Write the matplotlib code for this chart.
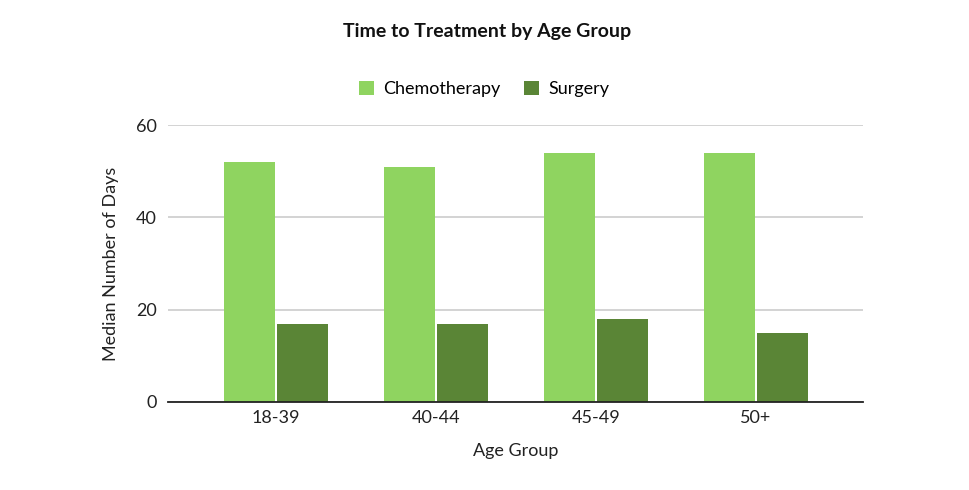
import matplotlib
matplotlib.use("Agg")
import matplotlib.pyplot as plt
import numpy as np
from matplotlib.patches import Patch

categories = ["18-39", "40-44", "45-49", "50+"]
chemotherapy = [52, 51, 54, 54]
surgery = [17, 17, 18, 15]
yticks = [0, 20, 40, 60]

plt.rcParams['font.family'] = ['Lato', 'DejaVu Sans']

fig = plt.figure(figsize=(9.7, 4.9), dpi=100)
ax = fig.add_axes([168/970, 1-402/490, (863-168)/970, (402-125)/490])

x = np.arange(len(categories))
w = 0.315
c1 = "#8fd460"
c2 = "#5a8536"
ax.bar(x - 0.166, chemotherapy, width=w, color=c1, zorder=3)
ax.bar(x + 0.166, surgery, width=w, color=c2, zorder=3)

ax.set_xlim(-0.675, 3.669)
ax.set_ylim(0, 60)
ax.set_yticks(yticks)
ax.set_yticklabels([str(v) for v in yticks], fontsize=13, color="#222222")
ax.set_xticks(x)
ax.set_xticklabels(categories, fontsize=13, color="#222222")
ax.tick_params(axis='both', length=0)
ax.tick_params(axis='y', pad=8)
ax.tick_params(axis='x', pad=6)
ax.grid(axis='y', color="#cccccc", linewidth=1.2, zorder=0)
for s in ["top", "right", "left"]:
    ax.spines[s].set_visible(False)
ax.spines["bottom"].set_color("#222222")
ax.spines["bottom"].set_linewidth(1.3)
ax.spines["bottom"].set_zorder(4)

ax.set_xlabel("Age Group", fontsize=13, color="#222222", labelpad=12)
ax.set_ylabel("Median Number of Days", fontsize=13, color="#222222", labelpad=12)

fig.text(487/970, 1-31/490, "Time to Treatment by Age Group", ha="center", va="center",
         fontsize=14, fontweight="bold", color="#111111")

handles = [Patch(facecolor=c1, label="Chemotherapy"), Patch(facecolor=c2, label="Surgery")]
fig.legend(handles=handles, loc="center", bbox_to_anchor=(484/970, 1-89/490), ncol=2,
           frameon=False, fontsize=13, handlelength=0.85, handleheight=0.85,
           handletextpad=0.5, columnspacing=1.3)

fig.savefig("out.png", dpi=100, facecolor="white")
